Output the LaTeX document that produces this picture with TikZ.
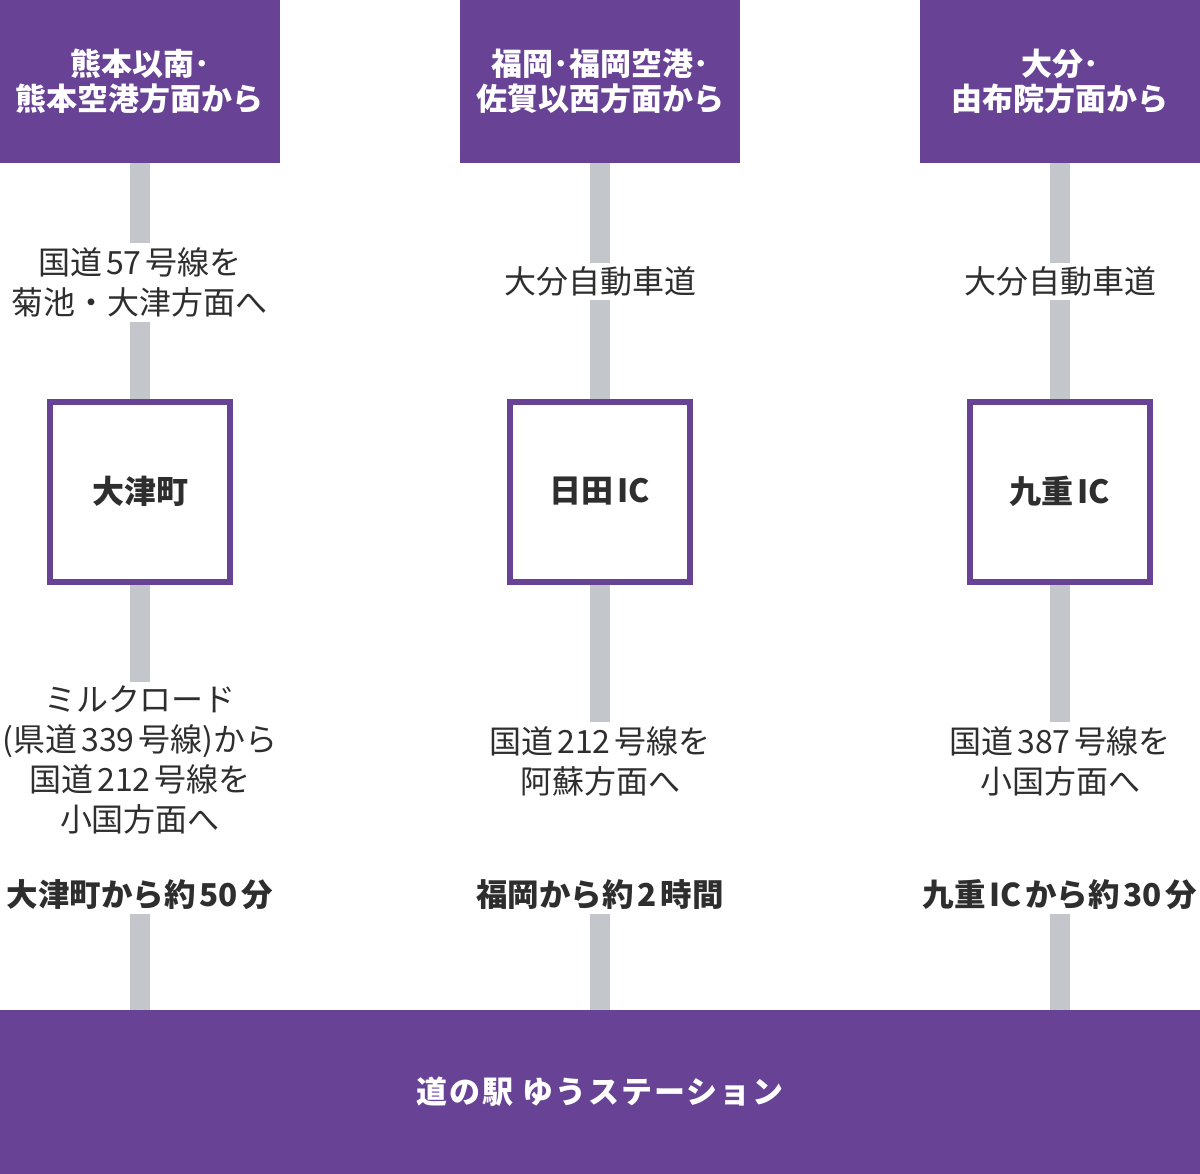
\documentclass[tikz,border=0pt]{standalone}
\usepackage{fontspec}
\setmainfont{Noto Sans CJK JP}
\definecolor{brandpurple}{HTML}{674295}
\definecolor{roadgray}{HTML}{C3C6CA}
\definecolor{textdark}{HTML}{2E2E2E}
\newcommand{\ns}{\hspace{0.12em}}
\tikzset{
  origin/.style={fill=brandpurple, text=white, font=\fontsize{31}{35}\selectfont\bfseries,
    align=center, minimum width=280, minimum height=163, inner sep=0},
  route/.style={text=textdark, font=\fontsize{32}{40}\selectfont, align=center, inner sep=0},
  junction/.style={draw=brandpurple, line width=6, fill=white, text=textdark,
    font=\fontsize{32}{36}\selectfont\bfseries, minimum width=180, minimum height=180, inner sep=0},
  timing/.style={text=textdark, font=\fontsize{31.5}{36}\selectfont\bfseries, inner sep=0, minimum height=38},
  goal/.style={fill=brandpurple, text=white, font=\fontsize{31}{36}\selectfont\bfseries\addfontfeatures{LetterSpace=6},
    minimum width=1200, minimum height=164, inner sep=0},
  road/.style={draw=roadgray, line width=20}
}
\begin{document}
\begin{tikzpicture}[x=1pt,y=-1pt]
\useasboundingbox (0,0) rectangle (1200,1174);
% top origin boxes
\node[origin] (o1) at (140,81.5) {熊本以南･\\熊本空港方面から};
\node[origin] (o2) at (600,81.5) {福岡･福岡空港･\\佐賀以西方面から};
\node[origin] (o3) at (1060,81.5) {大分･\\由布院方面から};
% upper route texts
\node[route, minimum height=79] (r1) at (140,282.5) {国道\ns{}57\ns{}号線を\\菊池・大津方面へ};
\node[route, minimum height=37] (r2) at (600,281.5) {大分自動車道};
\node[route, minimum height=37] (r3) at (1060,281.5) {大分自動車道};
% junction boxes
\node[junction] (j1) at (140,491.5) {大津町};
\node[junction] (j2) at (600,491.5) {日田\ns{}IC};
\node[junction] (j3) at (1060,491.5) {九重\ns{}IC};
% lower route texts
\node[route, minimum height=156] (l1) at (140,760) {ミルクロード\\(県道\ns{}339\ns{}号線)から\\国道\ns{}212\ns{}号線を\\小国方面へ};
\node[route, minimum height=78] (l2) at (600,761) {国道\ns{}212\ns{}号線を\\阿蘇方面へ};
\node[route, minimum height=78] (l3) at (1060,761) {国道\ns{}387\ns{}号線を\\小国方面へ};
% timings
\node[timing] (t1) at (140,895) {大津町から約\ns{}50\ns{}分};
\node[timing] (t2) at (600,895) {福岡から約\ns{}2\ns{}時間};
\node[timing] (t3) at (1060,895) {九重\ns{}IC\ns{}から約\ns{}30\ns{}分};
% goal
\node[goal] (g) at (600,1092) {道の駅 ゆうステーション};
\coordinate (g1) at (140,1010);
\coordinate (g2) at (600,1010);
\coordinate (g3) at (1060,1010);
% roads
\foreach \c in {1,2,3}{
  \draw[road] (o\c) -- (r\c);
  \draw[road] (r\c) -- (j\c);
  \draw[road] (j\c) -- (l\c);
  \draw[road] (t\c) -- (g\c);
}
\end{tikzpicture}
\end{document}
